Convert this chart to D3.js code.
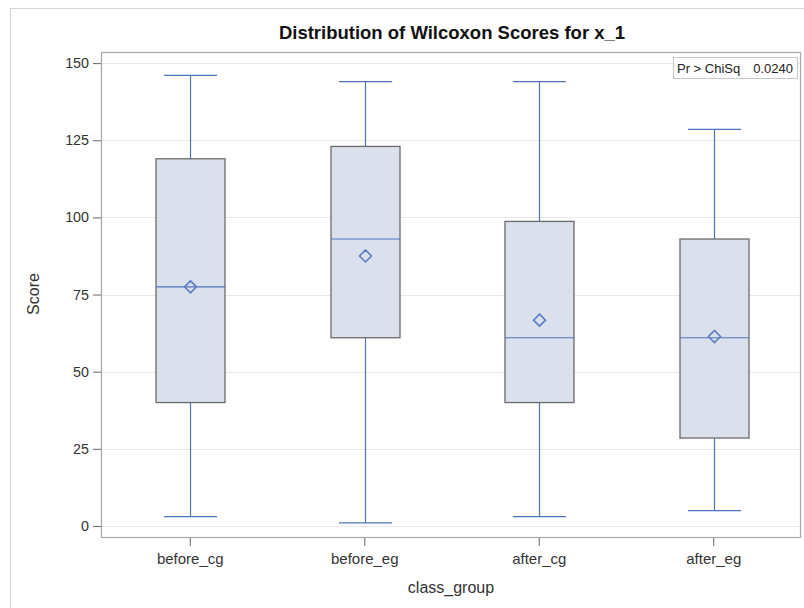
<!DOCTYPE html>
<html>
<head>
<meta charset="utf-8">
<script src="https://cdn.jsdelivr.net/npm/d3@7"></script>
<style>
  html, body { margin: 0; padding: 0; background: #fff; }
  svg { display: block; font-family: "Liberation Sans", Arial, sans-serif; }
</style>
</head>
<body>
<svg id="chart" width="804" height="608"></svg>
<script>
// Wilcoxon score summaries per class group
const categories = ["before_cg", "before_eg", "after_cg", "after_eg"];
const whiskerLow  = [3, 1, 3, 5];
const q1Values    = [40, 61, 40, 28.5];
const medians     = [77.5, 93, 61, 61];
const means       = [77.5, 87.5, 66.7, 61.4];
const q3Values    = [119, 123, 98.7, 93];
const whiskerHigh = [146, 144, 144, 128.5];
const yTicks = [0, 25, 50, 75, 100, 125, 150];
const pValueLabel = ["Pr > ChiSq", "0.0240"];

const svg = d3.select("#chart");
const m = { left: 101, right: 801, top: 52, bottom: 538 };

// outer frame (top and left edges visible)
svg.append("path")
  .attr("d", "M10.5,608 V8.5 H804")
  .attr("fill", "none").attr("stroke", "#d4d4d4").attr("stroke-width", 1);

const x = d3.scaleBand().domain(categories).range([m.left + 2, m.right]).padding(0);
const y = d3.scaleLinear().domain([-3.9, 153.6]).range([m.bottom, m.top]);

// grid lines
svg.append("g").selectAll("line").data(yTicks).join("line")
  .attr("x1", m.left).attr("x2", m.right)
  .attr("y1", d => Math.round(y(d)) + 0.5).attr("y2", d => Math.round(y(d)) + 0.5)
  .attr("stroke", "#e8e8e8").attr("stroke-width", 1);

// y axis
const yAxis = svg.append("g").attr("transform", `translate(${m.left},0)`)
  .call(d3.axisLeft(y).tickValues(yTicks).tickSize(8).tickPadding(4));
yAxis.select(".domain").remove();
yAxis.selectAll(".tick line").attr("stroke", "#666");
yAxis.selectAll(".tick text").attr("font-size", 14.3).attr("fill", "#333");

// x axis
const xAxis = svg.append("g").attr("transform", `translate(0,${m.bottom})`)
  .call(d3.axisBottom(x).tickSize(8).tickPadding(7));
xAxis.select(".domain").remove();
xAxis.selectAll(".tick line").attr("stroke", "#666");
xAxis.selectAll(".tick text").attr("font-size", 15).attr("fill", "#333");

// boxes
const boxW = 69;
const blue = "#4f72bf";
const groups = svg.append("g").selectAll("g").data(categories).join("g");
groups.each(function (c, i) {
  const g = d3.select(this);
  const cx = Math.round(x(c) + x.bandwidth() / 2) + 0.5;
  const cap = 53;
  // whiskers
  g.append("line").attr("x1", cx).attr("x2", cx)
    .attr("y1", y(whiskerHigh[i])).attr("y2", y(q3Values[i]))
    .attr("stroke", blue).attr("stroke-width", 1.2);
  g.append("line").attr("x1", cx).attr("x2", cx)
    .attr("y1", y(q1Values[i])).attr("y2", y(whiskerLow[i]))
    .attr("stroke", blue).attr("stroke-width", 1.2);
  g.append("line").attr("x1", cx - cap / 2).attr("x2", cx + cap / 2)
    .attr("y1", y(whiskerHigh[i])).attr("y2", y(whiskerHigh[i]))
    .attr("stroke", blue).attr("stroke-width", 1.2);
  g.append("line").attr("x1", cx - cap / 2).attr("x2", cx + cap / 2)
    .attr("y1", y(whiskerLow[i])).attr("y2", y(whiskerLow[i]))
    .attr("stroke", blue).attr("stroke-width", 1.2);
  // box
  g.append("rect")
    .attr("x", cx - boxW / 2).attr("width", boxW)
    .attr("y", y(q3Values[i])).attr("height", y(q1Values[i]) - y(q3Values[i]))
    .attr("fill", "#dae1ec").attr("stroke", "#6b6b6b").attr("stroke-width", 1.3);
  // median
  g.append("line").attr("x1", cx - boxW / 2).attr("x2", cx + boxW / 2)
    .attr("y1", y(medians[i])).attr("y2", y(medians[i]))
    .attr("stroke", blue).attr("stroke-width", 1.2);
  // mean marker
  const my = y(means[i]), r = 6;
  g.append("path")
    .attr("d", `M${cx},${my - r} L${cx + r},${my} L${cx},${my + r} L${cx - r},${my} Z`)
    .attr("fill", "none").attr("stroke", "#5b7cc4").attr("stroke-width", 1.6);
});

// plot frame
svg.append("rect")
  .attr("x", m.left + 0.5).attr("y", m.top + 0.5)
  .attr("width", m.right - m.left - 1).attr("height", m.bottom - m.top - 1)
  .attr("fill", "none").attr("stroke", "#a9a9a9").attr("stroke-width", 1.2);

// p-value inset
const inset = svg.append("g");
inset.append("rect").attr("x", 673.5).attr("y", 57.5).attr("width", 124).attr("height", 21)
  .attr("fill", "#fff").attr("stroke", "#c8c8c8");
inset.append("text").attr("x", 677).attr("y", 72.5).attr("font-size", 13).attr("fill", "#222")
  .text(pValueLabel[0]);
inset.append("text").attr("x", 793).attr("y", 72.5).attr("font-size", 13).attr("fill", "#222")
  .attr("text-anchor", "end").text(pValueLabel[1]);

// titles
svg.append("text").attr("x", 452).attr("y", 39).attr("text-anchor", "middle")
  .attr("font-size", 18.5).attr("font-weight", "bold").attr("fill", "#111")
  .text("Distribution of Wilcoxon Scores for x_1");
svg.append("text").attr("transform", "translate(39,294) rotate(-90)")
  .attr("text-anchor", "middle").attr("font-size", 16).attr("fill", "#333").text("Score");
svg.append("text").attr("x", 451).attr("y", 593).attr("text-anchor", "middle")
  .attr("font-size", 16).attr("fill", "#333").text("class_group");
</script>
</body>
</html>
